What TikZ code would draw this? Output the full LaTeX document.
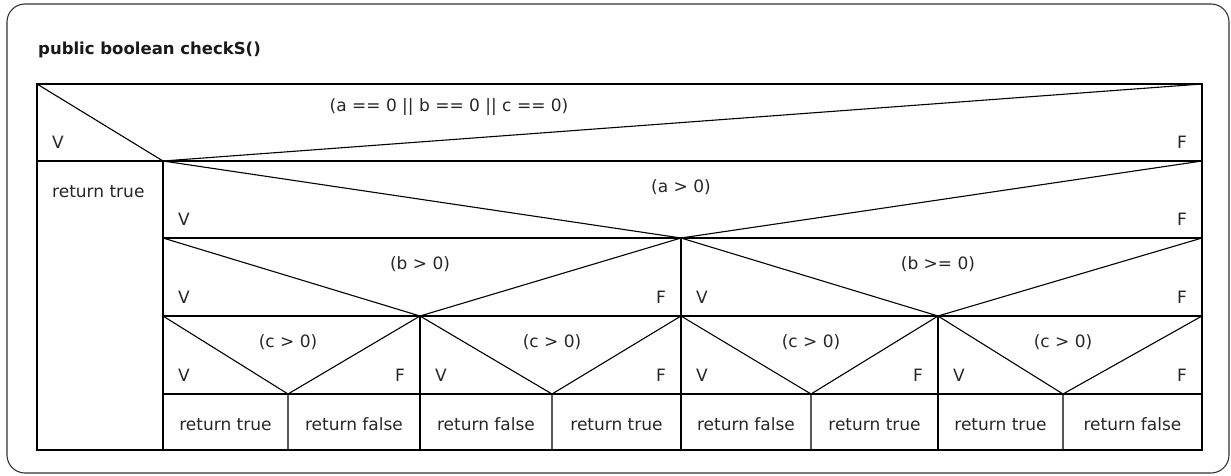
\documentclass[tikz,border=0pt]{standalone}
\usepackage{fontspec}
\setmainfont{DejaVu Sans}
\usetikzlibrary{calc}
\tikzset{
  frame/.style={draw=black!80, line width=1.1pt, rounded corners=18pt},
  cell/.style={draw=black, line width=1.1pt},
  cond/.style={anchor=base, inner sep=0pt, text=black!85, font=\fontsize{17}{20}\selectfont},
  yes/.style={cond, anchor=base west},
  no/.style={cond, anchor=base east},
  stmt/.style={cond},
  head/.style={anchor=base west, inner sep=0pt, text=black!90, font=\fontsize{16.5}{20}\selectfont\bfseries}
}

\begin{document}
\begin{tikzpicture}[x=1pt,y=-1pt]
  \useasboundingbox (0,0) rectangle (1231,476);
  \draw[frame] (7,4) rectangle (1229,473);
  \node[head] (title) at (38,55) {public boolean checkS()};
  % outer if
  \draw[cell] (37,84) rectangle (1202,450);
  \draw[cell] (37,161) -- (1202,161) (163,161) -- (163,450);
  \draw[cell] (37,84) -- (163,161) -- (1202,84);
  \node[cond] (ifabc) at (449,112) {(a == 0 || b == 0 || c == 0)};
  \node[yes] (ifabcV) at (52,148) {V};
  \node[no] (ifabcF) at (1187,148) {F};
  \node[stmt, anchor=base west] (ret0) at (52,197) {return true};
  % a > 0
  \draw[cell] (163,238) -- (1202,238) (681,238) -- (681,450);
  \draw[cell] (163,161) -- (681,238) -- (1202,161);
  \node[cond] (ifa) at (681,192) {(a > 0)};
  \node[yes] (ifaV) at (178,225) {V};
  \node[no] (ifaF) at (1187,225) {F};
  % b > 0 and b >= 0
  \draw[cell] (163,316) -- (1202,316) (163,394) -- (1202,394);
  \draw[cell] (163,238) -- (420,316) -- (681,238) -- (938,316) -- (1202,238);
  \draw[cell] (420,316) -- (420,450) (938,316) -- (938,450);
  \node[cond] (ifb1) at (420,269) {(b > 0)};
  \node[cond] (ifb2) at (938,269) {(b >= 0)};
  \node[yes] (ifb1V) at (178,303) {V};
  \node[no] (ifb1F) at (666,303) {F};
  \node[yes] (ifb2V) at (696,303) {V};
  \node[no] (ifb2F) at (1187,303) {F};
  % c > 0, four times
  \foreach \l/\s/\r/\vt/\ft [count=\i] in {163/288/420/true/false, 420/552/681/false/true,
      681/811/938/false/true, 938/1063/1202/true/false}{
    \draw[cell] (\l,316) -- (\s,394) -- (\r,316) (\s,394) -- (\s,450);
    \node[cond] (ifc\i) at (\s,347) {(c > 0)};
    \node[yes] (ifc\i V) at ($(\l,381)+(15,0)$) {V};
    \node[no] (ifc\i F) at ($(\r,381)+(-15,0)$) {F};
    \node[stmt] (retV\i) at ($(\l,430)!0.5!(\s,430)$) {return \vt};
    \node[stmt] (retF\i) at ($(\s,430)!0.5!(\r,430)$) {return \ft};
  }
\end{tikzpicture}
\end{document}
